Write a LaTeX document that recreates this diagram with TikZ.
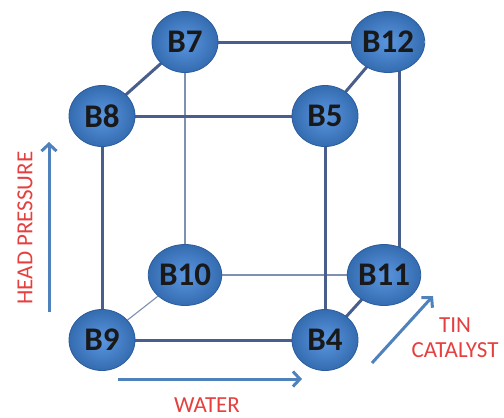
\documentclass[tikz,border=0pt]{standalone}
\usepackage{fontspec}
\setmainfont{Carlito}
\usetikzlibrary{arrows.meta,shapes.geometric}
\definecolor{nodeblue}{HTML}{3E7FCF}
\definecolor{nodeedge}{HTML}{2A5C9E}
\definecolor{nodein}{HTML}{5A96E0}
\definecolor{edgecol}{HTML}{4A5E8C}
\definecolor{thincol}{HTML}{7F90B0}
\definecolor{arrowblue}{HTML}{4F81BD}
\definecolor{redtext}{HTML}{E5403F}
\tikzset{
  ball/.style={ellipse, minimum width=66pt, minimum height=61pt, inner sep=0pt,
    draw=nodeedge, line width=0.8pt, shading=radial, inner color=nodein, outer color=nodeblue!85!black,
    font=\fontsize{33}{33}\selectfont\bfseries, text=black!90},
  thick edge/.style={draw=edgecol, line width=3pt},
  thin edge/.style={draw=thincol, line width=1.1pt},
  axis arrow/.style={draw=arrowblue, line width=3pt, -{Straight Barb[length=7pt,width=15pt,line width=3pt]}},
  axis label/.style={text=redtext, font=\fontsize{23}{25}\selectfont, align=center},
}
\begin{document}
\begin{tikzpicture}[x=1pt,y=-1pt]
\useasboundingbox (0,0) rectangle (504,418);
\fill[white] (0,0) rectangle (504,418);
% node positions
\coordinate (p7) at (185,42);
\coordinate (p12) at (388,42);
\coordinate (p8) at (102,116);
\coordinate (p5) at (325,116);
\coordinate (p10) at (185,275);
\coordinate (p11) at (384,275);
\coordinate (p9) at (102,340);
\coordinate (p4) at (325,340);
\coordinate (r12) at (399,42);
\coordinate (r11) at (399,275);
% edges (drawn first, nodes on top)
\draw[thin edge] (p7) -- (p10);
\draw[thin edge] (p10) -- (p11);
\draw[thin edge] (p9) -- (p10);
\draw[thick edge] (p7) -- (p12);
\draw[thick edge] (p7) -- (p8);
\draw[thick edge] (p12) -- (p5);
\draw[thick edge] (p8) -- (p5);
\draw[thick edge] (p8) -- (p9);
\draw[thick edge] (p5) -- (p4);
\draw[thick edge] (p9) -- (p4);
\draw[thick edge] (p4) -- (p11);
\draw[thick edge] (r12) -- (r11);
% nodes
\node[ball] (B7) at (p7) {B7};
\node[ball] (B12) at (p12) {B12};
\node[ball] (B8) at (p8) {B8};
\node[ball] (B5) at (p5) {B5};
\node[ball] (B10) at (p10) {B10};
\node[ball] (B11) at (p11) {B11};
\node[ball] (B9) at (p9) {B9};
\node[ball] (B4) at (p4) {B4};
% axis arrows
\coordinate (hpS) at (49,312);
\coordinate (hpE) at (49,142);
\draw[axis arrow] (hpS) -- (hpE);
\node[axis label, rotate=90] (hp) at (25,228) {HEAD PRESSURE};
\coordinate (wS) at (118,379);
\coordinate (wE) at (302,379);
\draw[axis arrow] (wS) -- (wE);
\node[axis label] (water) at (207,405) {WATER};
\coordinate (tS) at (372,363);
\coordinate (tE) at (433,296);
\draw[axis arrow] (tS) -- (tE);
\node[axis label] (tin) at (455,338) {TIN\\CATALYST};
\end{tikzpicture}
\end{document}
